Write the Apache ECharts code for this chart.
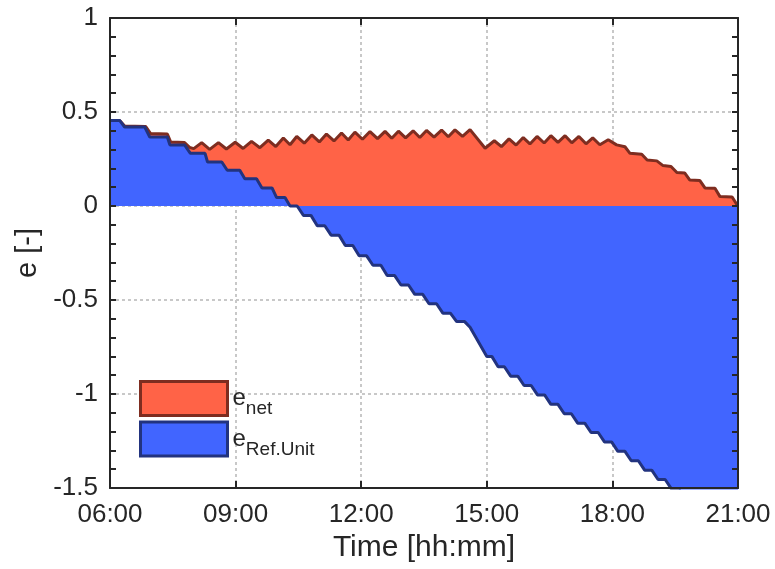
<!DOCTYPE html>
<html>
<head>
<meta charset="utf-8">
<script src="https://cdn.jsdelivr.net/npm/echarts@6/dist/echarts.min.js"></script>
<style>
  html, body { margin: 0; padding: 0; background: #fff; }
  #chart { width: 775px; height: 569px; }
</style>
</head>
<body>
<div id="chart"></div>
<script>
// Time of day in hours (vertices of the plotted curves) and the matching values.
const netTime = [
  6.00, 6.23, 6.35, 6.85, 6.97, 7.37, 7.45, 7.78, 7.90, 8.00,
  8.19, 8.38, 8.59, 8.78, 8.99, 9.18, 9.38, 9.58, 9.78, 9.96,
  10.14, 10.30, 10.46, 10.64, 10.82, 11.00, 11.17, 11.35, 11.53, 11.69,
  11.85, 12.03, 12.21, 12.39, 12.57, 12.73, 12.89, 13.06, 13.24, 13.40,
  13.56, 13.74, 13.92, 14.08, 14.24, 14.42, 14.60, 14.96, 15.18, 15.35,
  15.53, 15.70, 15.87, 16.03, 16.20, 16.37, 16.53, 16.70, 16.87, 17.03,
  17.20, 17.37, 17.53, 17.70, 17.90, 18.10, 18.30, 18.42, 18.70, 18.83,
  19.06, 19.21, 19.40, 19.54, 19.73, 19.85, 20.09, 20.21, 20.45, 20.57,
  20.86, 20.98, 21.00
];
const netE = [
  0.455, 0.455, 0.425, 0.423, 0.385, 0.383, 0.340, 0.338, 0.312, 0.305,
  0.337, 0.301, 0.337, 0.303, 0.339, 0.306, 0.344, 0.310, 0.350, 0.316,
  0.362, 0.326, 0.370, 0.334, 0.378, 0.341, 0.383, 0.346, 0.388, 0.351,
  0.393, 0.355, 0.396, 0.358, 0.397, 0.360, 0.398, 0.362, 0.400, 0.364,
  0.402, 0.366, 0.404, 0.368, 0.405, 0.370, 0.406, 0.307, 0.347, 0.316,
  0.357, 0.324, 0.364, 0.330, 0.370, 0.335, 0.374, 0.338, 0.374, 0.336,
  0.370, 0.331, 0.362, 0.326, 0.352, 0.325, 0.315, 0.280, 0.275, 0.245,
  0.240, 0.215, 0.210, 0.178, 0.175, 0.138, 0.135, 0.096, 0.094, 0.050,
  0.048, 0.005, 0.000
];
const refTime = [
  6.00, 6.23, 6.35, 6.83, 6.95, 7.37, 7.43, 7.78, 7.92, 8.27,
  8.33, 8.67, 8.80, 9.10, 9.22, 9.50, 9.63, 9.87, 9.98, 10.18,
  10.30, 10.47, 10.62, 10.80, 10.95, 11.13, 11.28, 11.47, 11.62, 11.80,
  11.95, 12.13, 12.28, 12.47, 12.62, 12.80, 12.95, 13.13, 13.28, 13.47,
  13.62, 13.80, 13.95, 14.13, 14.28, 14.47, 14.60, 15.00, 15.12, 15.27,
  15.42, 15.57, 15.74, 15.89, 16.06, 16.21, 16.38, 16.53, 16.70, 16.85,
  17.02, 17.17, 17.34, 17.49, 17.66, 17.81, 17.98, 18.13, 18.30, 18.45,
  18.62, 18.77, 18.94, 19.09, 19.26, 19.41, 19.58, 19.73, 19.90, 20.05,
  20.22, 20.37, 20.54, 20.69, 21.00
];
const refE = [
  0.455, 0.455, 0.420, 0.420, 0.367, 0.367, 0.325, 0.325, 0.280, 0.280,
  0.234, 0.234, 0.190, 0.190, 0.145, 0.145, 0.096, 0.096, 0.045, 0.045,
  0.000, 0.000, -0.050, -0.050, -0.105, -0.105, -0.155, -0.155, -0.210, -0.210,
  -0.265, -0.265, -0.315, -0.315, -0.370, -0.370, -0.420, -0.420, -0.470, -0.470,
  -0.520, -0.520, -0.570, -0.570, -0.615, -0.615, -0.645, -0.800, -0.800, -0.855,
  -0.855, -0.905, -0.905, -0.955, -0.955, -1.005, -1.005, -1.055, -1.055, -1.105,
  -1.105, -1.155, -1.155, -1.205, -1.205, -1.255, -1.255, -1.305, -1.305, -1.355,
  -1.355, -1.405, -1.405, -1.455, -1.455, -1.505, -1.505, -1.555, -1.555, -1.605,
  -1.605, -1.655, -1.655, -1.705, -1.705
];

// Axis settings
const xTicks = { min: 6, max: 21, step: 3 };
const yTicks = { min: -1.5, max: 1, step: 0.5 };

const FONT = "'Liberation Sans', Arial, Helvetica, sans-serif";
const INK = '#262626';
const RED = '#ff6347', RED_EDGE = '#7e2d20';
const BLUE = '#4165ff', BLUE_EDGE = '#22337f';

const zip = (xs, ys) => xs.map((x, i) => [x, ys[i]]);
const hhmm = v => (v < 10 ? '0' : '') + v + ':00';

const chart = echarts.init(document.getElementById('chart'), null, { renderer: 'canvas' });

const grid = { left: 110, right: 37, top: 18, bottom: 81 };

const frameAxisX = (pos, showLabel) => ({
  type: 'value', position: pos, min: xTicks.min, max: xTicks.max, interval: xTicks.step,
  z: 5,
  axisLine: { show: true, onZero: false, lineStyle: { color: INK, width: 2 } },
  axisTick: { show: true, inside: true, length: 7, lineStyle: { color: INK, width: 2 } },
  axisLabel: { show: showLabel, formatter: hhmm, margin: 14, color: INK, fontSize: 26, fontFamily: FONT },
  splitLine: { show: false }
});
const frameAxisY = (pos, showLabel) => ({
  type: 'value', position: pos, min: yTicks.min, max: yTicks.max, interval: yTicks.step,
  z: 5,
  axisLine: { show: true, onZero: false, lineStyle: { color: INK, width: 2 } },
  axisTick: { show: true, inside: true, length: 6, lineStyle: { color: INK, width: 2 } },
  minorTick: { show: true, splitNumber: 5, length: 6, lineStyle: { color: INK, width: 2 } },
  axisLabel: { show: showLabel, margin: 12, color: INK, fontSize: 26, fontFamily: FONT },
  splitLine: { show: false }
});
const gridStyle = { show: true, lineStyle: { color: '#c8c8c8', width: 2, type: [3, 3] } };

const option = {
  animation: false,
  backgroundColor: '#ffffff',
  grid,
  xAxis: [
    Object.assign(frameAxisX('bottom', true), {
      name: 'Time [hh:mm]', nameLocation: 'middle', nameGap: 42,
      nameTextStyle: { color: INK, fontSize: 30, fontFamily: FONT }
    }),
    frameAxisX('top', false),
    {
      type: 'value', position: 'bottom', min: xTicks.min, max: xTicks.max, interval: xTicks.step,
      z: 0, axisLine: { show: false }, axisTick: { show: false }, axisLabel: { show: false },
      splitLine: gridStyle
    }
  ],
  yAxis: [
    Object.assign(frameAxisY('left', true), {
      name: 'e [-]', nameLocation: 'middle', nameGap: 64,
      nameTextStyle: { color: INK, fontSize: 29, fontFamily: FONT }
    }),
    frameAxisY('right', false),
    {
      type: 'value', position: 'left', min: yTicks.min, max: yTicks.max, interval: yTicks.step,
      z: 0, axisLine: { show: false }, axisTick: { show: false }, axisLabel: { show: false },
      splitLine: gridStyle
    }
  ],
  legend: {
    orient: 'vertical', left: 139, top: 380, padding: 0,
    itemWidth: 87, itemHeight: 34, itemGap: 2,
    data: [
      { name: 'net', icon: 'rect', itemStyle: { color: RED, borderColor: RED_EDGE, borderWidth: 3 } },
      { name: 'Ref.Unit', icon: 'rect', itemStyle: { color: BLUE, borderColor: BLUE_EDGE, borderWidth: 3 } }
    ],
    formatter: name => '{e|e}{s|' + name + '}',
    textStyle: {
      color: INK, fontFamily: FONT,
      rich: {
        e: { fontSize: 24, fontFamily: FONT, color: INK, lineHeight: 40, verticalAlign: 'middle' },
        s: { fontSize: 19, fontFamily: FONT, color: INK, lineHeight: 15, verticalAlign: 'bottom' }
      }
    }
  },
  series: [
    {
      name: 'net', type: 'line', xAxisIndex: 0, yAxisIndex: 0,
      data: zip(netTime, netE), symbol: 'none', z: 2,
      lineStyle: { color: RED_EDGE, width: 3 },
      itemStyle: { color: RED },
      areaStyle: { color: RED, opacity: 1, origin: 'auto' }
    },
    {
      name: 'Ref.Unit', type: 'line', xAxisIndex: 0, yAxisIndex: 0,
      data: zip(refTime, refE), symbol: 'none', z: 3,
      lineStyle: { color: BLUE_EDGE, width: 3 },
      itemStyle: { color: BLUE },
      areaStyle: { color: BLUE, opacity: 1, origin: 'auto' }
    }
  ]
};

chart.setOption(option);
</script>
</body>
</html>
